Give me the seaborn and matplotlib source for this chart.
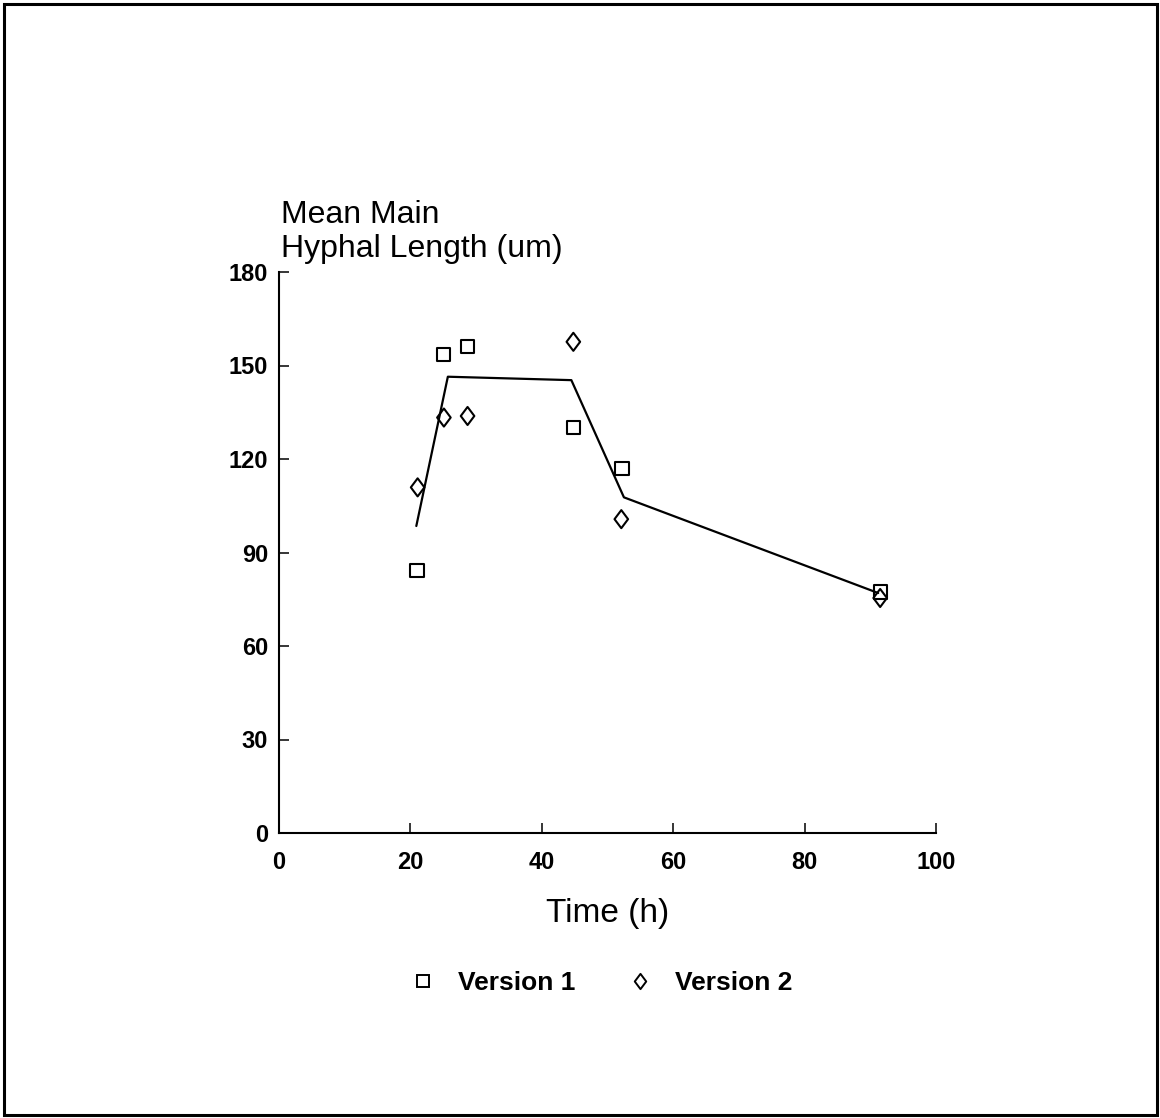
import matplotlib
matplotlib.use("Agg")
import matplotlib.pyplot as plt
from matplotlib.lines import Line2D
from matplotlib.patches import Rectangle
from matplotlib.path import Path
import seaborn as sns
import pandas as pd

# Observations: sampling time (h) and mean main hyphal length (um)
time_v1 = [21.0, 25.1, 28.7, 44.8, 52.2, 91.5]
length_v1 = [84.1, 153.5, 156.2, 130.1, 116.9, 77.3]

time_v2 = [21.1, 25.1, 28.7, 44.8, 52.1, 91.5]
length_v2 = [110.9, 133.3, 133.8, 157.6, 100.7, 75.4]

# Fitted trend line
trend_time = [20.9, 25.7, 44.5, 52.5, 91.2]
trend_length = [98.5, 146.4, 145.3, 107.7, 77.0]

x_ticks = [0, 20, 40, 60, 80, 100]
y_ticks = [0, 30, 60, 90, 120, 150, 180]

sns.set_style("ticks")
plt.rcParams["font.family"] = ["Liberation Sans", "DejaVu Sans"]
plt.rcParams["text.color"] = "black"
plt.rcParams["axes.labelcolor"] = "black"

# Open diamond, a little narrower than it is tall
diamond = Path([(0, 1), (0.75, 0), (0, -1), (-0.75, 0), (0, 1)],
               [Path.MOVETO, Path.LINETO, Path.LINETO, Path.LINETO, Path.CLOSEPOLY])

v1 = pd.DataFrame({"time": time_v1, "length": length_v1})
v2 = pd.DataFrame({"time": time_v2, "length": length_v2})
trend = pd.DataFrame({"time": trend_time, "length": trend_length})

fig = plt.figure(figsize=(11.6, 11.18), dpi=100)
ax = fig.add_axes([279 / 1160, 1 - 833 / 1118, (936 - 279) / 1160, (833 - 272) / 1118])

sns.lineplot(data=trend, x="time", y="length", ax=ax, color="black",
             linewidth=1.6, sort=False, estimator=None)
sns.scatterplot(data=v1, x="time", y="length", marker="s", ax=ax, s=90,
                facecolor="none", edgecolor="black", linewidth=1.5,
                legend=False, zorder=3)
sns.scatterplot(data=v2, x="time", y="length", marker=diamond, ax=ax, s=170,
                facecolor="none", edgecolor="black", linewidth=1.5,
                legend=False, zorder=3)

ax.set_xlim(0, 100)
ax.set_ylim(0, 180)
ax.set_xticks(x_ticks)
ax.set_yticks(y_ticks)
ax.tick_params(direction="in", length=7, width=1.1, colors="black",
               labelsize=17)
ax.tick_params(axis="x", pad=13)
ax.tick_params(axis="y", pad=8)
for lab in ax.get_xticklabels() + ax.get_yticklabels():
    lab.set_fontweight("bold")

sns.despine(ax=ax)
for side in ("left", "bottom"):
    ax.spines[side].set_linewidth(1.5)
    ax.spines[side].set_color("black")

ax.set_xlabel("Time (h)", fontsize=24, labelpad=17, color="black")
ax.set_ylabel("")

fig.text(281 / 1160, 1 - 223 / 1118, "Mean Main", fontsize=23,
         ha="left", va="baseline", color="black")
fig.text(281 / 1160, 1 - 257 / 1118, "Hyphal Length (um)", fontsize=23,
         ha="left", va="baseline", color="black")

handles = [
    Line2D([], [], linestyle="none", marker="s", markersize=8.5,
           markerfacecolor="none", markeredgecolor="black", markeredgewidth=1.4),
    Line2D([], [], linestyle="none", marker=diamond, markersize=11,
           markerfacecolor="none", markeredgecolor="black", markeredgewidth=1.4),
]
leg = fig.legend(handles, ["Version 1", "Version 2"], loc="center",
                 bbox_to_anchor=(601 / 1160, 1 - 983 / 1118), ncol=2,
                 frameon=False, prop={"size": 19, "weight": "bold"},
                 handletextpad=0.83, columnspacing=1.92, handlelength=1.0,
                 borderpad=0, borderaxespad=0)
for t in leg.get_texts():
    t.set_color("black")

fig.patches.append(Rectangle((4 / 1160, 3 / 1118), 1153 / 1160, 1111 / 1118,
                             transform=fig.transFigure, fill=False,
                             edgecolor="black", linewidth=2.2))

fig.savefig("out.png", dpi=100, facecolor="white")
